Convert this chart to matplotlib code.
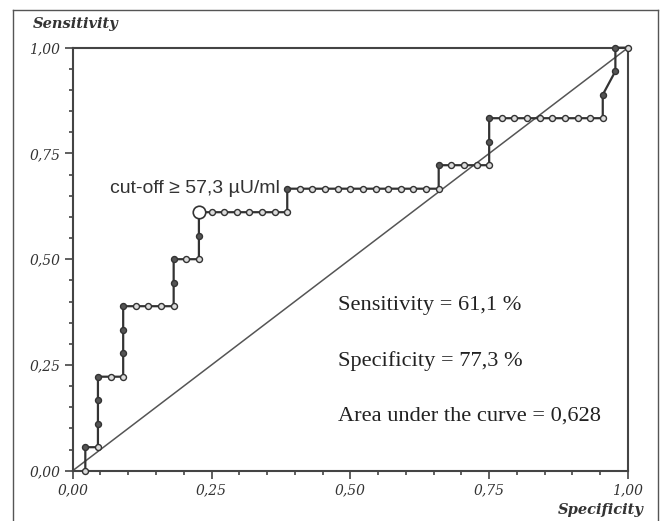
import numpy as np
import matplotlib
matplotlib.use("Agg")
import matplotlib.pyplot as plt
from matplotlib.lines import Line2D

n_neg = 44
n_pos = 18

# ROC steps as counts: false positives (x) and true positives (y)
fp_count = [1, 1, 2, 2, 2, 2, 3, 4, 4, 4, 4, 5, 6, 7, 8, 8, 8, 9, 10, 10, 10,
            11, 12, 13, 14, 15, 16, 17, 17, 18, 19, 20, 21, 22, 23, 24, 25, 26,
            27, 28, 29, 29, 30, 31, 32, 33, 33, 33, 34, 35, 36, 37, 38, 39, 40,
            41, 42, 42, 43, 43, 44]
tp_count = [0, 1, 1, 2, 3, 4, 4, 4, 5, 6, 7, 7, 7, 7, 7, 8, 9, 9, 9, 10, 11,
            11, 11, 11, 11, 11, 11, 11, 12, 12, 12, 12, 12, 12, 12, 12, 12, 12,
            12, 12, 12, 13, 13, 13, 13, 13, 14, 15, 15, 15, 15, 15, 15, 15, 15,
            15, 15, 16, 17, 18, 18]

cutoff_fp = 10
cutoff_tp = 11
cutoff_label = "cut-off \u2265 57,3 \u00b5U/ml"
stats_lines = ["Sensitivity = 61,1 %", "Specificity = 77,3 %",
               "Area under the curve = 0,628"]
tick_vals = [0, 0.25, 0.5, 0.75, 1.0]
tick_labels = ["0,00", "0,25", "0,50", "0,75", "1,00"]

x = np.array(fp_count) / n_neg
y = np.array(tp_count) / n_pos

fig = plt.figure(figsize=(6.63, 5.21), dpi=100)
ax = fig.add_axes([72.7 / 663, 50.3 / 521, 555.3 / 663, 423 / 521])

# chance line
ax.plot([0, 1], [0, 1], color="#555555", lw=1.1, clip_on=False, zorder=2)

# roc curve
ax.plot(x, y, color="#333333", lw=1.6, clip_on=False, zorder=3)
vert = np.r_[False, np.diff(y) > 0]
ax.plot(x[~vert], y[~vert], "o", ms=4.3, mfc="#dddddd", mec="#333333",
        mew=1.0, clip_on=False, zorder=4)
ax.plot(x[vert], y[vert], "o", ms=4.3, mfc="#555555", mec="#333333",
        mew=1.0, clip_on=False, zorder=4)

# cut-off point
cx, cy = cutoff_fp / n_neg, cutoff_tp / n_pos
ax.plot([cx], [cy], "o", ms=9, mfc="white", mec="#333333", mew=1.2,
        clip_on=False, zorder=5)
ax.text(0.3735, 0.667, cutoff_label, fontsize=14, family="Liberation Sans",
        color="#333333", ha="right", va="center")

for i, s in enumerate(stats_lines):
    ax.text(0.477, 0.391 - i * 0.131, s, fontsize=16.1,
            family="Liberation Serif", color="#222222", ha="left", va="center")

ax.set_xlim(0, 1)
ax.set_ylim(0, 1)
ax.set_xticks(tick_vals)
ax.set_xticklabels(tick_labels)
ax.set_yticks(tick_vals)
ax.set_yticklabels(tick_labels)
ax.set_xticks(np.arange(0, 1.001, 0.05), minor=True)
ax.set_yticks(np.arange(0, 1.001, 0.05), minor=True)
ax.tick_params(which="major", direction="out", length=6, width=1.2,
               color="#444444", labelsize=10, labelcolor="#333333", pad=3)
ax.tick_params(which="minor", direction="out", length=3, width=1.2,
               color="#444444")
for lab in ax.get_xticklabels() + ax.get_yticklabels():
    lab.set_fontstyle("italic")
    lab.set_family("DejaVu Serif")
for sp in ax.spines.values():
    sp.set_color("#444444")
    sp.set_linewidth(1.5)

fig.text(33 / 663, 1 - 24 / 521, "Sensitivity", fontsize=10.5,
         family="DejaVu Serif", style="italic", weight="bold",
         color="#333333", ha="left", va="center")
fig.text(601 / 663, 1 - 510 / 521, "Specificity", fontsize=10.5,
         family="DejaVu Serif", style="italic", weight="bold",
         color="#333333", ha="center", va="center")

# outer border of the picture
bx0, bx1, by1 = 13 / 663, 658 / 663, 1 - 9.5 / 521
for xs, ys in [([bx0, bx0], [0, by1]), ([bx0, bx1], [by1, by1]),
               ([bx1, bx1], [by1, 0])]:
    fig.add_artist(Line2D(xs, ys, transform=fig.transFigure,
                          color="#555555", lw=1.0))

fig.savefig("out.png", dpi=100)
